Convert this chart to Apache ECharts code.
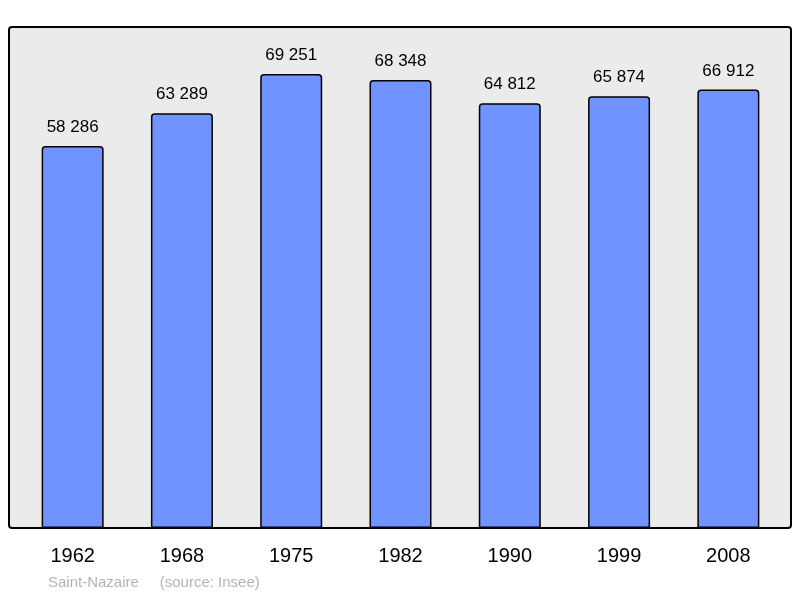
<!DOCTYPE html>
<html><head><meta charset="utf-8">
<script src="https://cdn.jsdelivr.net/npm/echarts@6/dist/echarts.min.js"></script>
<style>html,body{margin:0;padding:0;background:#fff}#c{width:800px;height:598px}</style>
</head><body><div id="c"></div>
<script>
const years = ['1962','1968','1975','1982','1990','1999','2008'];
const population = [58286, 63289, 69251, 68348, 64812, 65874, 66912];
const labels = ['58 286','63 289','69 251','68 348','64 812','65 874','66 912'];
const chart = echarts.init(document.getElementById('c'));
chart.setOption({
  animation: false,
  graphic: [
    {type:'rect', z:-10, shape:{x:9,y:27,width:782,height:501,r:3}, style:{fill:'#ebebeb',stroke:'#000',lineWidth:2}},
    {type:'text', left:48, top:575, style:{text:'Saint-Nazaire     (source: Insee)', fill:'#b4b4b4', font:'15px "Liberation Sans", Arial, sans-serif'}}
  ],
  grid: {left:18, right:17, top:27, bottom:70},
  xAxis: {type:'category', data:years, axisLine:{show:false}, axisTick:{show:false},
    axisLabel:{color:'#000', fontSize:20, margin:18, fontFamily:'Liberation Sans'}},
  yAxis: {type:'value', min:0, max:76440, show:false, splitLine:{show:false}},
  series: [{type:'bar', data:population, barWidth:62,
    itemStyle:{color:'#7093ff', borderColor:'#000', borderWidth:1.5, borderRadius:[3,3,0,0]},
    label:{show:true, position:'top', distance:10, color:'#000', fontSize:17, fontFamily:'Liberation Sans',
      formatter:p=>labels[p.dataIndex]}}]
});
</script></body></html>
